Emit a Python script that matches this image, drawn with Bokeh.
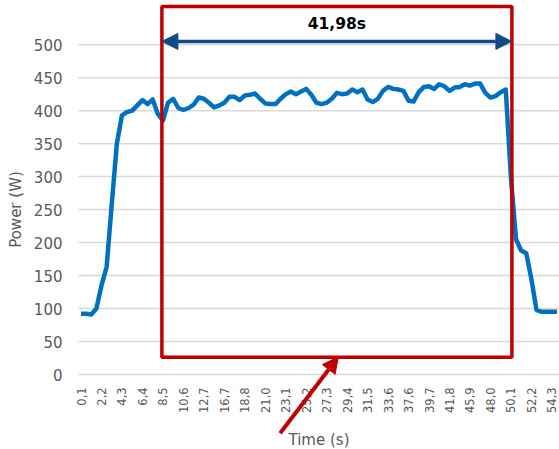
import math
from bokeh.plotting import figure
from bokeh.layouts import row
from bokeh.models import FixedTicker, Arrow, NormalHead, Range1d
from bokeh.core.properties import value
from bokeh.embed import file_html
from bokeh.resources import INLINE

# ---- data -------------------------------------------------------------
power = [92, 92, 91, 100, 135, 163, 258, 350, 393, 398,
         400, 408, 416, 410, 417, 395, 385, 412, 418, 404,
         401, 404, 409, 420, 418, 412, 405, 408, 412, 421,
         421, 416, 423, 424, 426, 418, 411, 410, 410, 418,
         425, 429, 425, 429, 433, 424, 412, 410, 412, 418,
         427, 425, 426, 432, 428, 432, 417, 413, 418, 430,
         436, 433, 432, 430, 415, 414, 428, 436, 437, 433,
         440, 437, 430, 435, 436, 440, 438, 441, 441, 427,
         420, 422, 428, 432, 299, 205, 188, 184, 145, 98,
         95, 95, 95, 95]
sample_index = list(range(len(power)))

time_labels = ["0,1", "2,2", "4,3", "6,4", "8,5", "10,6", "12,7", "16,7",
               "18,8", "21,0", "23,1", "25,2", "27,3", "29,4", "31,5", "33,6",
               "37,6", "39,7", "41,8", "45,9", "48,0", "50,1", "52,2", "54,3"]
label_step = 4
label_positions = [i * label_step for i in range(len(time_labels))]

y_ticks = list(range(0, 501, 50))

x_title = "Time (s)"
y_title = "Power (W)"
duration_text = "41,98s"

# highlighted window (sample index / W)
win_left, win_right = 15.8, 84.2
win_bottom, win_top = 26, 558
dim_y = 505
dim_text_y = 531
# pointer arrow
ptr_start = (38.9, -89)
ptr_end = (50.3, 27)
# where the category labels and x title sit (value units, below 0)
tick_label_y = -19.5
x_title_y = -100

FONT = "DejaVu Sans"
GREY = "#595959"
RED = "#C00000"
NAVY = "#114A88"
BLUE = "#0070C0"

# ---- left strip carrying the y-axis title ------------------------------
tf = figure(width=30, height=449, output_backend="svg", toolbar_location=None,
            x_range=Range1d(0, 30), y_range=Range1d(449, 0),
            x_axis_location=None, y_axis_location=None,
            min_border=0)
tf.outline_line_color = None
tf.grid.grid_line_color = None
tf.text(x=[15], y=[209], text=[y_title], angle=math.pi / 2,
        text_align="center", text_baseline="middle",
        text_font=value(FONT), text_font_size="15px", text_color=GREY)

# ---- main chart ----------------------------------------------------------
x_first, x_last = -0.5, len(power) - 0.5
p = figure(width=529, height=449, output_backend="svg", toolbar_location=None,
           x_range=Range1d(-2.06, x_last), y_range=Range1d(-113.7, 567.0),
           x_axis_location=None, y_axis_location="left",
           min_border_left=40, min_border_right=0, min_border_top=0,
           min_border_bottom=0)
p.outline_line_color = None
p.background_fill_color = "white"
p.border_fill_color = "white"

p.yaxis.ticker = FixedTicker(ticks=y_ticks)
p.yaxis.axis_line_color = None
p.yaxis.major_tick_line_color = None
p.yaxis.minor_tick_line_color = None
p.yaxis.major_tick_in = 0
p.yaxis.major_tick_out = 0
p.yaxis.major_label_text_font = FONT
p.yaxis.major_label_text_color = GREY
p.yaxis.major_label_text_font_size = "15px"
p.yaxis.major_label_standoff = 8

p.grid.grid_line_color = None
# horizontal gridlines spanning the category extent
p.segment(x0=[x_first] * len(y_ticks), y0=y_ticks,
          x1=[x_last] * len(y_ticks), y1=y_ticks,
          line_color="#D9D9D9", line_width=1.5)

# category labels under the value-0 line
p.text(x=label_positions, y=[tick_label_y] * len(label_positions), text=time_labels,
       angle=math.pi / 2, text_align="right", text_baseline="middle",
       text_font=value(FONT), text_font_size="11.5px", text_color=GREY)
p.text(x=[(len(power) - 1) / 2], y=[x_title_y], text=[x_title],
       text_align="center", text_baseline="middle",
       text_font=value(FONT), text_font_size="15px", text_color=GREY)

# series
p.line(sample_index, power, line_color=BLUE, line_width=4.5, line_join="round")

# highlighted window rectangle
p.quad(left=[win_left], right=[win_right], bottom=[win_bottom], top=[win_top],
       fill_color=None, line_color=RED, line_width=3.5)

# dimension arrow + text
p.add_layout(Arrow(start=NormalHead(size=16, fill_color=NAVY, line_color=NAVY),
                   end=NormalHead(size=16, fill_color=NAVY, line_color=NAVY),
                   x_start=win_left, y_start=dim_y, x_end=win_right, y_end=dim_y,
                   line_color=NAVY, line_width=3.5))
p.text(x=[(win_left + win_right) / 2], y=[dim_text_y], text=[duration_text],
       text_align="center", text_baseline="middle",
       text_font=value(FONT), text_font_size="15.5px", text_font_style="bold",
       text_color="black")

# pointer arrow
p.add_layout(Arrow(end=NormalHead(size=16, fill_color=RED, line_color=RED),
                   x_start=ptr_start[0], y_start=ptr_start[1],
                   x_end=ptr_end[0], y_end=ptr_end[1],
                   line_color=RED, line_width=4))

layout = row(tf, p, spacing=0)
open("out.html", "w").write(file_html(layout, INLINE))
